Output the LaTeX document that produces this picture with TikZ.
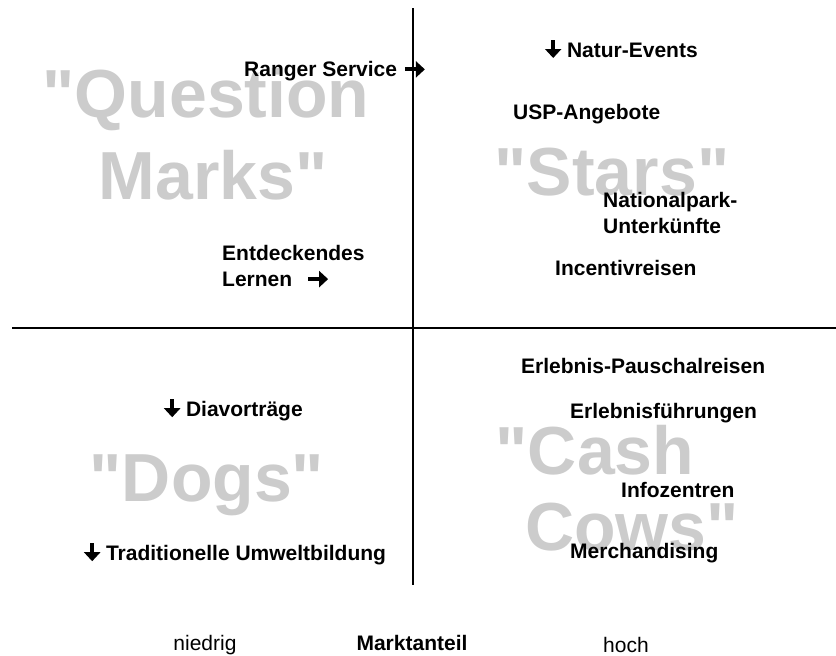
\documentclass[tikz,border=0pt]{standalone}
\usepackage{fontspec}
\setmainfont{Liberation Sans}
\usetikzlibrary{positioning,arrows.meta}
\tikzset{
	axisline/.style={color=black, line width=2pt},
	bigword/.style={font=\fontsize{68}{68}\selectfont\bfseries, text=black!20, inner sep=0},
	item/.style={font=\fontsize{21}{26}\selectfont\bfseries, anchor=west, inner sep=0, align=left},
	scalelabel/.style={font=\fontsize{21}{24}\selectfont, inner sep=0},
	fatarrow/.style={line width=3.8pt, -{Triangle[length=9pt,width=16pt]}}
}
\newcommand{\dnarrow}{\tikz[baseline=0pt]\draw[fatarrow] (8pt,17pt) -- (8pt,-1pt);}
\newcommand{\rtarrow}{\tikz[baseline=0pt]\draw[fatarrow] (0pt,7pt) -- (20pt,7pt);}
\newcommand{\qq}{\textquotedbl}

\begin{document}
\begin{tikzpicture}[x=1pt,y=-1pt]
	\useasboundingbox (0,0) rectangle (836,656);
	
	%%%% grey quadrant names
	\node[bigword] (qm1) at (206,100) {\qq Question};
	\node[bigword] (qm2) at (213,175) {Marks\qq};
	\node[bigword] (stars) at (612,172) {\qq Stars\qq};
	\node[bigword] (dogs) at (207,485) {\qq Dogs\qq};
	\node[bigword] (cash) at (595,450) {\qq Cash};
	\node[bigword] (cows) at (632,527) {Cows\qq};
	
	%%%% axes
	\coordinate (ytop) at (413,8);
	\coordinate (ybot) at (413,585);
	\coordinate (xleft) at (12,328);
	\coordinate (xright) at (836,328);
	\draw[axisline] (ytop) -- (ybot);
	\draw[axisline] (xleft) -- (xright);
	
	%%%% Question Marks
	\node[item] (ranger) at (244,71) {Ranger Service \rtarrow};
	\node[item] (lernen) at (222,266) {Entdeckendes\\Lernen\hspace{14pt}\rtarrow};
	
	%%%% Stars
	\node[item] (natur) at (545,49) {\dnarrow\ Natur-Events};
	\node[item] (usp) at (513,114) {USP-Angebote};
	\node[item] (natpark) at (603,213) {Nationalpark-\\Unterkünfte};
	\node[item] (incentiv) at (555,268) {Incentivreisen};
	
	%%%% Dogs
	\node[item] (diavortrag) at (164,409) {\dnarrow\ Diavorträge};
	\node[item] (umweltb) at (84,553) {\dnarrow\ Traditionelle Umweltbildung};
	
	%%%% Cash Cows
	\node[item] (pauschal) at (521,366) {Erlebnis-Pauschalreisen};
	\node[item] (fuehrung) at (570,413) {Erlebnisführungen};
	\node[item] (infoz) at (621,490) {Infozentren};
	\node[item] (merch) at (570,553) {Merchandising};
	
	%%%% scale
	\node[scalelabel] (niedrig) at (205,645) {niedrig};
	\node[scalelabel,font=\fontsize{21}{24}\selectfont\bfseries] (marktanteil) at (412,643) {Marktanteil};
	\node[scalelabel] (hoch) at (626,645) {hoch};
\end{tikzpicture}
\end{document}
